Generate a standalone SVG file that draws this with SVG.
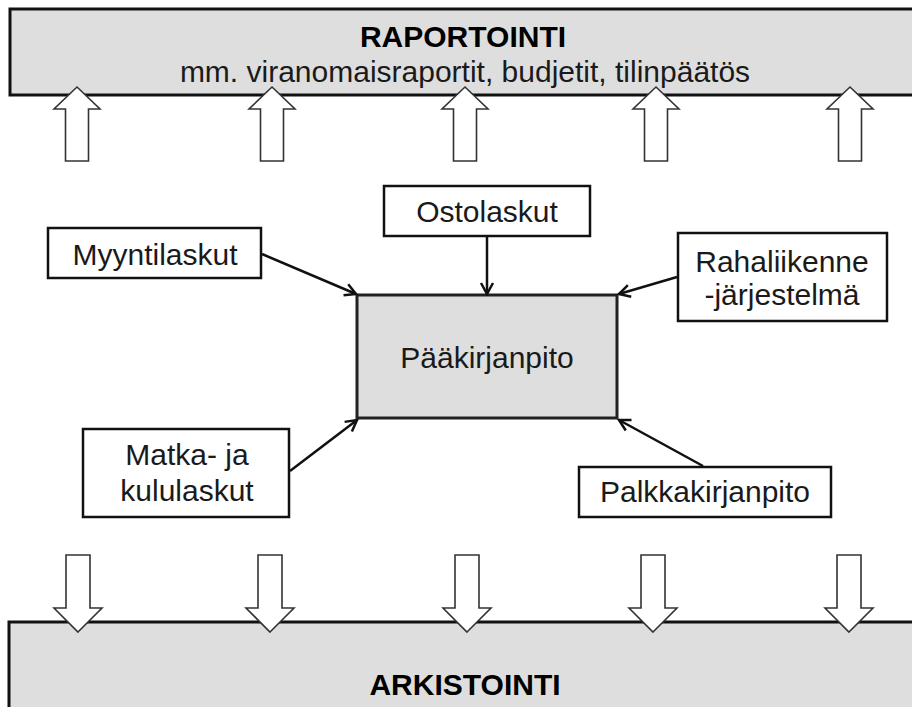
<svg xmlns="http://www.w3.org/2000/svg" width="912" height="707" viewBox="0 0 912 707">
<style>
.band{fill:#dedede;stroke:#111;stroke-width:3}
.box{fill:#fff;stroke:#111;stroke-width:2.5}
.main{fill:#dedede;stroke:#222;stroke-width:3}
.blk{fill:#fff;stroke:#333;stroke-width:1.6;stroke-linejoin:miter}
.t{font-family:"Liberation Sans",Arial,sans-serif;font-size:30px;fill:#1a1a1a;text-anchor:middle}
.b{font-weight:bold;fill:#000}
.c{fill:none;stroke:#111;stroke-width:2.5}
</style>
<defs>
<marker id="ah" markerUnits="userSpaceOnUse" markerWidth="16" markerHeight="16" viewBox="0 0 16 16" refX="14" refY="8" orient="auto">
<path d="M3,2 L14,8 L3,14" fill="none" stroke="#111" stroke-width="2.5"/>
</marker>
</defs>
<g id="raportointi">
<rect class="band" x="10" y="9" width="912" height="86"/>
<text class="t b" x="463" y="47">RAPORTOINTI</text>
<text class="t" x="465" y="82">mm. viranomaisraportit, budjetit, tilinpäätös</text>
</g>
<g id="arkistointi">
<rect class="band" x="9" y="622" width="912" height="100"/>
<text class="t b" x="465" y="695">ARKISTOINTI</text>
</g>
<g id="up-arrows">
<path class="blk" d="M77,87 L100,109 L88.5,109 L88.5,161 L65.5,161 L65.5,109 L54,109 Z"/>
<path class="blk" d="M272,87 L295,109 L283.5,109 L283.5,161 L260.5,161 L260.5,109 L249,109 Z"/>
<path class="blk" d="M465,87 L488,109 L476.5,109 L476.5,161 L453.5,161 L453.5,109 L442,109 Z"/>
<path class="blk" d="M656,87 L679,109 L667.5,109 L667.5,161 L644.5,161 L644.5,109 L633,109 Z"/>
<path class="blk" d="M850,87 L873,109 L861.5,109 L861.5,161 L838.5,161 L838.5,109 L827,109 Z"/>
</g>
<g id="down-arrows">
<path class="blk" d="M78,632 L102,608 L90,608 L90,555 L66,555 L66,608 L54,608 Z"/>
<path class="blk" d="M270,632 L294,608 L282,608 L282,555 L258,555 L258,608 L246,608 Z"/>
<path class="blk" d="M467,632 L491,608 L479,608 L479,555 L455,555 L455,608 L443,608 Z"/>
<path class="blk" d="M653,632 L677,608 L665,608 L665,555 L641,555 L641,608 L629,608 Z"/>
<path class="blk" d="M849,632 L873,608 L861,608 L861,555 L837,555 L837,608 L825,608 Z"/>
</g>
<g id="paakirjanpito">
<rect class="main" x="357" y="295" width="260" height="123"/>
<text class="t" x="487" y="368">Pääkirjanpito</text>
</g>
<g id="ostolaskut">
<rect class="box" x="384" y="186" width="206" height="50"/>
<text class="t" x="487" y="222">Ostolaskut</text>
</g>
<g id="myyntilaskut">
<rect class="box" x="48" y="228" width="213" height="50"/>
<text class="t" x="155" y="265">Myyntilaskut</text>
</g>
<g id="rahaliikenne">
<rect class="box" x="678" y="233" width="209" height="88"/>
<text class="t" x="782" y="272">Rahaliikenne</text>
<text class="t" x="782" y="305">-järjestelmä</text>
</g>
<g id="matka">
<rect class="box" x="83" y="429" width="206" height="88"/>
<text class="t" x="187" y="465">Matka- ja</text>
<text class="t" x="187" y="501">kululaskut</text>
</g>
<g id="palkkakirjanpito">
<rect class="box" x="579" y="467" width="252" height="50"/>
<text class="t" x="705" y="502">Palkkakirjanpito</text>
</g>
<g id="connectors">
<line class="c" x1="262" y1="254" x2="356" y2="294" marker-end="url(#ah)"/>
<line class="c" x1="487" y1="237" x2="487" y2="294" marker-end="url(#ah)"/>
<line class="c" x1="677" y1="277" x2="619" y2="294" marker-end="url(#ah)"/>
<line class="c" x1="290" y1="471" x2="357" y2="420" marker-end="url(#ah)"/>
<line class="c" x1="703" y1="466" x2="619" y2="420" marker-end="url(#ah)"/>
</g>
</svg>
